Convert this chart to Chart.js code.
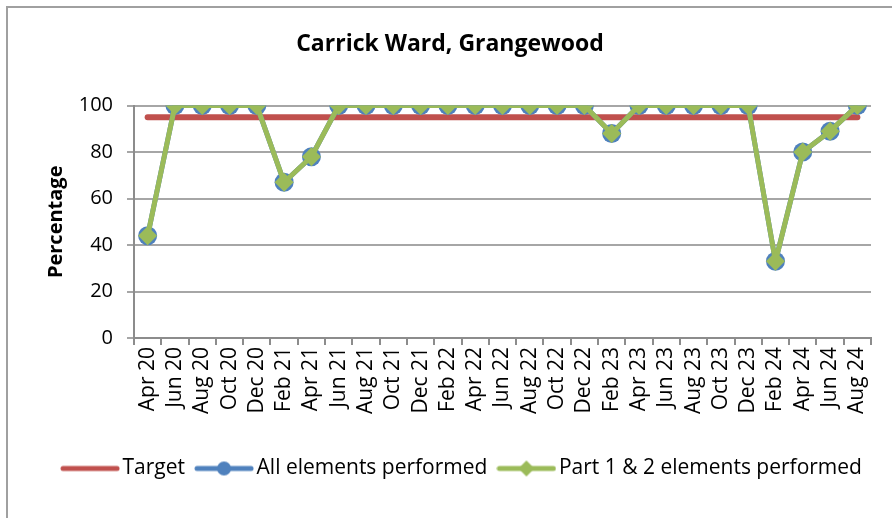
<!DOCTYPE html>
<html>
<head>
<meta charset="utf-8">
<script src="https://cdn.jsdelivr.net/npm/chart.js@4"></script>
<style>
    html, body { margin: 0; padding: 0; background: #fff; overflow: hidden; }
    #wrap { position: relative; width: 892px; height: 518px; }
    #frame { position: absolute; left: 6px; top: 6px; width: 900px; height: 520px;
             border-left: 2px solid #a0a0a0; border-top: 2px solid #a0a0a0; }
    canvas { position: absolute; left: 0; top: 0; }
</style>
</head>
<body>
<div id="wrap">
    <div id="frame"></div>
    <canvas id="wardChart" width="892" height="518"></canvas>
</div>
<script>
const months = ['Apr 20', 'Jun 20', 'Aug 20', 'Oct 20', 'Dec 20', 'Feb 21', 'Apr 21', 'Jun 21', 'Aug 21',
    'Oct 21', 'Dec 21', 'Feb 22', 'Apr 22', 'Jun 22', 'Aug 22', 'Oct 22', 'Dec 22', 'Feb 23', 'Apr 23',
    'Jun 23', 'Aug 23', 'Oct 23', 'Dec 23', 'Feb 24', 'Apr 24', 'Jun 24', 'Aug 24'];
const target = [95, 95, 95, 95, 95, 95, 95, 95, 95, 95, 95, 95, 95, 95, 95, 95, 95, 95, 95, 95, 95, 95, 95, 95, 95, 95, 95];
const allElements = [44, 100, 100, 100, 100, 67, 78, 100, 100, 100, 100, 100, 100, 100, 100, 100, 100, 88, 100, 100, 100, 100, 100, 33, 80, 89, 100];
const part12Elements = [44, 100, 100, 100, 100, 67, 78, 100, 100, 100, 100, 100, 100, 100, 100, 100, 100, 88, 100, 100, 100, 100, 100, 33, 80, 89, 100];
const yTicks = [0, 20, 40, 60, 80, 100];

const RED = '#C0504D', BLUE = '#4F81BD', GREEN = '#9BBB59';
const FONT = "'Open Sans', 'Liberation Sans', sans-serif";

// little legend swatches: line with an optional marker
function swatch(color, marker) {
    const c = document.createElement('canvas');
    c.width = 60; c.height = 20;
    const g = c.getContext('2d');
    g.strokeStyle = color; g.fillStyle = color;
    g.lineWidth = 5; g.lineCap = 'round';
    g.beginPath(); g.moveTo(3, 10); g.lineTo(57, 10); g.stroke();
    if (marker === 'circle') {
        g.beginPath(); g.arc(30, 10, 7, 0, Math.PI * 2); g.fill();
    } else if (marker === 'diamond') {
        g.beginPath(); g.moveTo(30, 2); g.lineTo(38, 10); g.lineTo(30, 18); g.lineTo(22, 10); g.closePath(); g.fill();
    }
    return c;
}
const swatches = [swatch(RED), swatch(BLUE, 'circle'), swatch(GREEN, 'diamond')];

// legend sits a bit right of centre in the original
const nudgeLegend = {
    id: 'nudgeLegend',
    afterLayout: function(chart) {
        if (chart.legend) {
            chart.legend.left += 15;
            chart.legend.right += 15;
        }
    }
};

const ctx = document.getElementById('wardChart').getContext('2d');
new Chart(ctx, {
    type: 'line',
    data: {
        labels: months,
        datasets: [{
            label: 'Target',
            data: target,
            borderColor: RED,
            borderWidth: 6,
            pointRadius: 0,
            borderCapStyle: 'round',
            order: 2
        }, {
            label: 'All elements performed',
            data: allElements,
            borderColor: BLUE,
            backgroundColor: BLUE,
            borderWidth: 5,
            pointStyle: 'circle',
            pointRadius: 9.5,
            pointBorderWidth: 0,
            borderJoinStyle: 'round',
            order: 1
        }, {
            label: 'Part 1 & 2 elements performed',
            data: part12Elements,
            borderColor: GREEN,
            backgroundColor: GREEN,
            borderWidth: 5,
            pointStyle: 'rectRot',
            pointRadius: 9.5,
            pointBorderWidth: 0,
            borderJoinStyle: 'round',
            order: 0
        }]
    },
    plugins: [nudgeLegend],
    options: {
        responsive: false,
        animation: false,
        layout: { padding: { left: 29, right: 21, top: 0, bottom: 29 } },
        plugins: {
            tooltip: { enabled: false },
            title: {
                display: true,
                text: 'Carrick Ward, Grangewood',
                color: '#000',
                font: { family: FONT, size: 23, weight: 'bold' },
                padding: { top: 31, bottom: 47 }
            },
            legend: {
                position: 'bottom',
                labels: {
                    usePointStyle: true,
                    pointStyleWidth: 44,
                    boxHeight: 16,
                    padding: 17,
                    color: '#000',
                    font: { family: FONT, size: 21 },
                    generateLabels: function(chart) {
                        return chart.data.datasets.map(function(ds, i) {
                            return {
                                text: ds.label,
                                datasetIndex: i,
                                pointStyle: swatches[i],
                                fillStyle: ds.borderColor,
                                strokeStyle: ds.borderColor,
                                lineWidth: 0,
                                hidden: false
                            };
                        });
                    }
                }
            }
        },
        scales: {
            x: {
                offset: true,
                afterFit: function(scale) { scale.height = 103; },
                grid: { offset: true, drawOnChartArea: false, drawTicks: true, tickLength: 7, color: '#8c8c8c', lineWidth: 2 },
                border: { color: '#8c8c8c', width: 2 },
                ticks: {
                    minRotation: 90, maxRotation: 90, autoSkip: false, padding: 2,
                    color: '#000', font: { family: FONT, size: 21 }
                }
            },
            y: {
                min: 0,
                max: 100,
                afterFit: function(scale) { scale.width = 105; },
                afterBuildTicks: function(scale) { scale.ticks = yTicks.map(function(v) { return { value: v }; }); },
                grid: { color: '#a6a6a6', lineWidth: 2, tickLength: 7, drawTicks: true },
                border: { color: '#8c8c8c', width: 2 },
                ticks: { padding: 14, color: '#000', font: { family: FONT, size: 20 } },
                title: {
                    display: true,
                    text: 'Percentage',
                    color: '#000',
                    font: { family: FONT, size: 20, weight: 'bold' },
                    padding: { top: 15, bottom: 0 }
                }
            }
        }
    }
});
</script>
</body>
</html>
